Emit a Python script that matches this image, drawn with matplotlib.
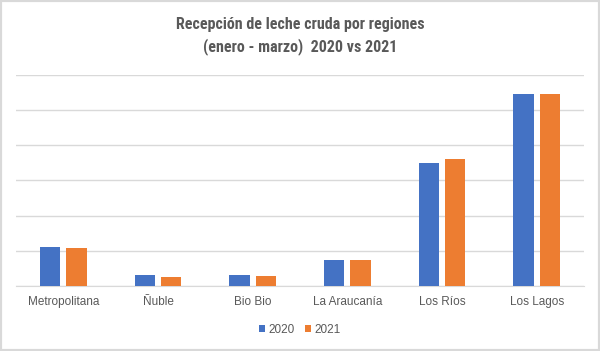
import numpy as np
import matplotlib.pyplot as plt
from matplotlib.patches import Rectangle

# data (units: one gridline step = 100)
regiones = ["Metropolitana", "Ñuble", "Bio Bio", "La Araucanía", "Los Ríos", "Los Lagos"]
v2020 = [111, 31, 31, 75, 349, 545]
v2021 = [108, 26, 29, 73, 362, 546]
years = ["2020", "2021"]
colors = ["#4472C4", "#ED7D31"]

fig = plt.figure(figsize=(6, 3.51), dpi=100)
ax = fig.add_axes([16/600, 1-286/351, 568/600, 211/351])

x = np.arange(len(regiones))
w = 0.216
ax.bar(x - 0.14, v2020, w, color=colors[0], label=years[0], zorder=3)
ax.bar(x + 0.14, v2021, w, color=colors[1], label=years[1], zorder=3)

ax.set_xlim(-0.5, len(regiones) - 0.5)
ax.set_ylim(0, 600)
ax.set_yticks(np.arange(0, 601, 100))
ax.yaxis.grid(True, color="#d9d9d9", lw=1, zorder=0)
ax.tick_params(axis="y", left=False, labelleft=False)
ax.tick_params(axis="x", length=0, pad=7, labelsize=8.5, labelcolor="#595959")
ax.set_xticks(x)
ax.set_xticklabels(regiones, family="Liberation Sans")
for s in ["top", "right", "left"]:
    ax.spines[s].set_visible(False)
ax.spines["bottom"].set_color("#d9d9d9")

title_font = ["DejaVu Sans Condensed", "Liberation Sans Narrow", "Roboto Condensed", "DejaVu Sans"]
fig.text(0.5, 1-25/351, "Recepción de leche cruda por regiones", ha="center", va="center",
         fontsize=11.5, color="#595959", family=title_font, fontstretch="condensed",
         fontweight="bold")
fig.text(0.5, 1-47/351, "(enero - marzo)  2020 vs 2021", ha="center", va="center",
         fontsize=11.5, color="#595959", family=title_font, fontstretch="condensed",
         fontweight="bold")

fig.legend(loc="center", bbox_to_anchor=(0.5, 1-330/351), ncol=2, frameon=False,
           handlelength=0.5, handleheight=0.5, handletextpad=0.3, columnspacing=0.85,
           prop={"family": "Liberation Sans", "size": 8.5}, labelcolor="#595959")

fig.patches.append(Rectangle((0, 0), 1, 1, transform=fig.transFigure, fill=False,
                             edgecolor="#d9d9d9", lw=3))

fig.savefig("out.png", dpi=100)
